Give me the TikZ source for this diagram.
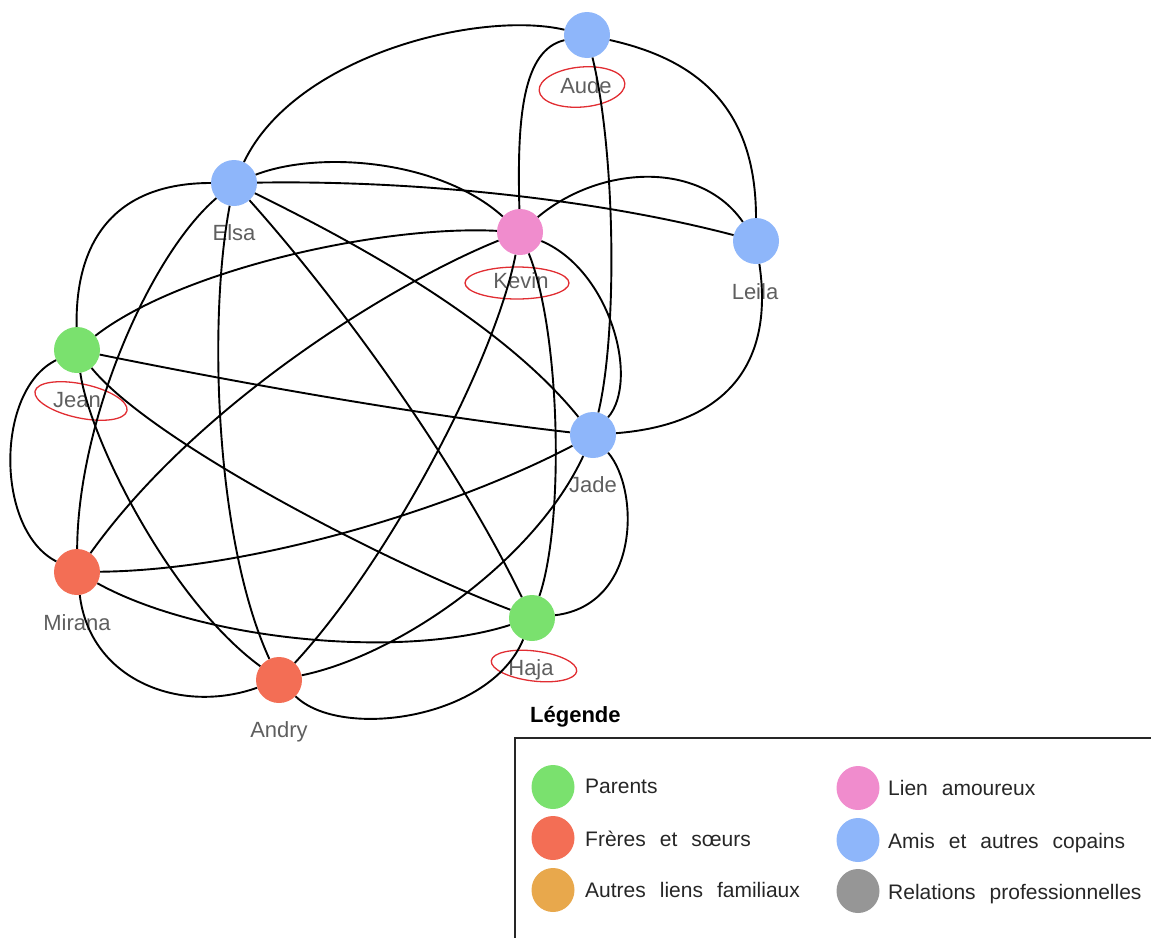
\documentclass[tikz,border=0pt]{standalone}
\usepackage{fontspec}
\setmainfont{Liberation Sans}
\usetikzlibrary{shapes.geometric}
\definecolor{cgreen}{RGB}{122,225,110}
\definecolor{cred}{RGB}{243,110,85}
\definecolor{cblue}{RGB}{142,182,250}
\definecolor{cpink}{RGB}{240,140,205}
\definecolor{corange}{RGB}{232,168,76}
\definecolor{cgray}{RGB}{150,150,150}
\definecolor{labelgray}{RGB}{95,95,95}
\definecolor{ringred}{RGB}{225,45,50}
\newcommand{\lblfont}{\fontsize{22}{26}\selectfont}
\newcommand{\legfont}{\fontsize{21}{25}\selectfont\spaceskip=14pt\relax}
\begin{document}
\begin{tikzpicture}[x=1pt,y=-1pt,
  person/.style={circle, fill=#1, draw=none, minimum size=46pt, inner sep=0pt},
  lbl/.style={text=labelgray, font=\lblfont, inner sep=0pt, anchor=base},
  edge/.style={line width=1.9pt, black},
  redring/.style={draw=ringred, line width=1.3pt},
  legdot/.style={ellipse, fill=#1, draw=none, minimum width=43pt, minimum height=44pt, inner sep=0pt},
  legtext/.style={text=black!85, font=\legfont, inner sep=0pt, anchor=base west}]
\useasboundingbox (0,0) rectangle (1151,937);
\clip (0,0) rectangle (1151,937);

% persons
\node[person=cblue]  (aude)   at (587,35)  {};
\node[person=cblue]  (elsa)   at (234,183) {};
\node[person=cpink]  (kevin)  at (520,232) {};
\node[person=cblue]  (leila)  at (756,241) {};
\node[person=cgreen] (jean)   at (77,350)  {};
\node[person=cblue]  (jade)   at (593,435) {};
\node[person=cred]   (mirana) at (77,572)  {};
\node[person=cgreen] (haja)   at (532,618) {};
\node[person=cred]   (andry)  at (279,680) {};

% labels
\node[lbl] (laude)   at (586,93)  {Aude};
\node[lbl] (lelsa)   at (234,240) {Elsa};
\node[lbl] (lkevin)  at (521,288) {Kevin};
\node[lbl] (lleila)  at (755,299) {Leila};
\node[lbl] (ljean)   at (77,407)  {Jean};
\node[lbl] (ljade)   at (593,492) {Jade};
\node[lbl] (lmirana) at (77,630)  {Mirana};
\node[lbl] (lhaja)   at (531,675) {Haja};
\node[lbl] (landry)  at (279,737) {Andry};

% red rings
\draw[redring, rotate around={5:(582,87)}]   (582,87)  ellipse [x radius=43, y radius=20];
\draw[redring]                               (517,283) ellipse [x radius=52, y radius=16];
\draw[redring, rotate around={-12:(81,401)}] (81,401)  ellipse [x radius=47, y radius=17];
\draw[redring, rotate around={-7:(534,666)}] (534,666) ellipse [x radius=43, y radius=15];

% edges
\draw[edge] (elsa) .. controls (295,55) and (480,10) .. (aude);
\draw[edge] (aude) .. controls (522,50) and (517,120) .. (kevin);
\draw[edge] (aude) .. controls (615,150) and (618,330) .. (jade);
\draw[edge] (aude) .. controls (700,60) and (756,110) .. (leila);
\draw[edge] (elsa) .. controls (120,183) and (75,235) .. (jean);
\draw[edge] (elsa) .. controls (150,255) and (78,420) .. (mirana);
\draw[edge] (elsa) .. controls (208,320) and (215,540) .. (andry);
\draw[edge] (elsa) .. controls (420,180) and (600,200) .. (leila);
\draw[edge] (elsa) .. controls (320,150) and (440,160) .. (kevin);
\draw[edge] (elsa) .. controls (350,240) and (500,320) .. (jade);
\draw[edge] (elsa) .. controls (330,290) and (450,450) .. (haja);
\draw[edge] (kevin) .. controls (600,165) and (700,160) .. (leila);
\draw[edge] (kevin) .. controls (380,225) and (180,270) .. (jean);
\draw[edge] (kevin) .. controls (400,280) and (200,400) .. (mirana);
\draw[edge] (kevin) .. controls (495,360) and (390,560) .. (andry);
\draw[edge] (kevin) .. controls (560,330) and (565,520) .. (haja);
\draw[edge] (kevin) .. controls (610,270) and (640,380) .. (jade);
\draw[edge] (jean) .. controls (250,385) and (420,415) .. (jade);
\draw[edge] (jean) .. controls (-5,390) and (-5,530) .. (mirana);
\draw[edge] (jean) .. controls (90,440) and (170,600) .. (andry);
\draw[edge] (jean) .. controls (150,440) and (380,560) .. (haja);
\draw[edge] (mirana) .. controls (250,570) and (450,510) .. (jade);
\draw[edge] (jade) .. controls (535,560) and (400,655) .. (andry);
\draw[edge] (jade) .. controls (640,490) and (640,605) .. (haja);
\draw[edge] (jade) .. controls (720,425) and (775,370) .. (leila);
\draw[edge] (mirana) .. controls (200,640) and (400,660) .. (haja);
\draw[edge] (mirana) .. controls (90,680) and (180,715) .. (andry);
\draw[edge] (andry) .. controls (340,740) and (490,720) .. (haja);

% legend
\node[font=\fontsize{22}{26}\selectfont\bfseries, inner sep=0pt, anchor=base west] (legtitle) at (530,722) {Légende};
\draw[line width=2pt, black!85] (1170,738) -- (515,738) -- (515,960);

\node[legdot=cgreen]  (dparents) at (553,787) {};
\node[legdot=cred]    (dfreres)  at (553,838) {};
\node[legdot=corange] (dautres)  at (553,890) {};
\node[legdot=cpink]   (damour)   at (858,788) {};
\node[legdot=cblue]   (damis)    at (858,840) {};
\node[legdot=cgray]   (dpro)     at (858,891) {};

\node[legtext] (tparents) at (585,793) {Parents};
\node[legtext] (tfreres)  at (585,846) {Frères et sœurs};
\node[legtext] (tautres)  at (585,897) {Autres liens familiaux};
\node[legtext] (tamour)   at (888,795) {Lien amoureux};
\node[legtext] (tamis)    at (888,848) {Amis et autres copains};
\node[legtext] (tpro)     at (888,899) {Relations professionnelles};
\end{tikzpicture}
\end{document}
